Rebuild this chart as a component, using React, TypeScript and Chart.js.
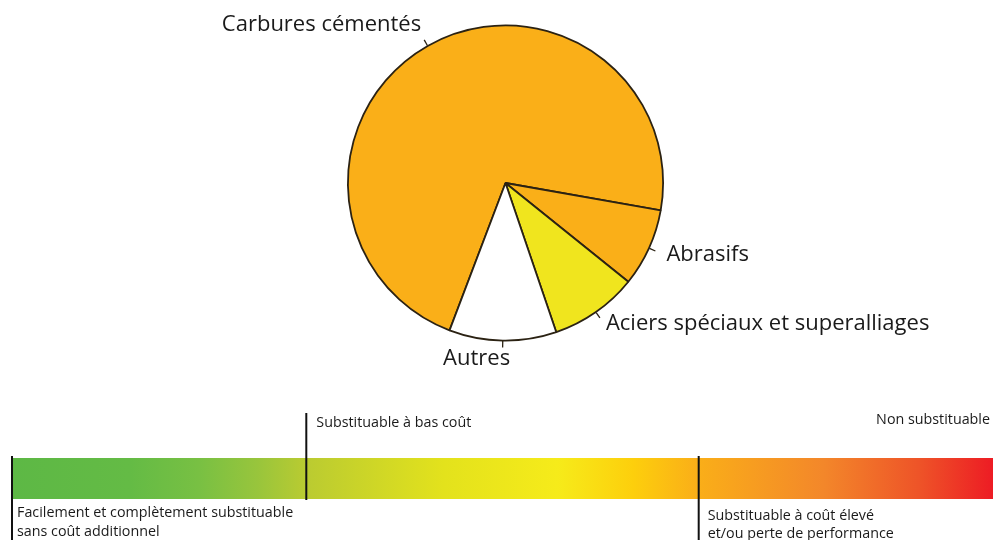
import React, { useEffect, useRef } from "react";
import { Chart, registerables } from "chart.js";

Chart.register(...registerables);

// ---- data ----
const categories = [
  "Carbures cémentés",
  "Abrasifs",
  "Aciers spéciaux et superalliages",
  "Autres",
];
const shares = [72, 8, 9, 11];
const sliceColors = ["#FAAF18", "#FAAF18", "#F0E51E", "#FFFFFF"];

const scaleLabels = [
  ["Facilement et complètement substituable", "sans coût additionnel"],
  ["Substituable à bas coût"],
  ["Substituable à coût élevé", "et/ou perte de performance"],
  ["Non substituable"],
];
const scaleLevels = [0, 0.3, 0.7, 1];

const gradientStops: [number, string][] = [
  [0, "#5DB845"],
  [0.12, "#64BB45"],
  [0.19, "#78C043"],
  [0.25, "#98C53C"],
  [0.3, "#BACB31"],
  [0.44, "#E3E21C"],
  [0.556, "#F6EB1A"],
  [0.633, "#FDCF0C"],
  [0.697, "#FAAF18"],
  [0.827, "#F3872A"],
  [0.924, "#EE5428"],
  [1, "#ED1C24"],
];

// ---- styles (label placement relative to tick end) ----
const PIE_FONT = '22px "Open Sans", sans-serif';
const SCALE_FONT = '14.3px "Open Sans", sans-serif';
const pieLabelStyle = [
  { dx: -3, dy: -9, align: "right" },
  { dx: 11, dy: 10, align: "left" },
  { dx: 6, dy: 12, align: "left" },
  { dx: -26, dy: 17, align: "center" },
];

const overlayPlugin = {
  id: "overlay",
  afterDraw(chart: any) {
    const ctx = chart.ctx as CanvasRenderingContext2D;
    const meta = chart.getDatasetMeta(0);
    ctx.save();
    // pie labels with small radial ticks
    meta.data.forEach((arc: any, i: number) => {
      const p = arc.getProps(["x", "y", "startAngle", "endAngle", "outerRadius"], true);
      const mid = (p.startAngle + p.endAngle) / 2;
      const c = Math.cos(mid);
      const s = Math.sin(mid);
      const x1 = p.x + c * (p.outerRadius + 0.5);
      const y1 = p.y + s * (p.outerRadius + 0.5);
      const x2 = p.x + c * (p.outerRadius + 7);
      const y2 = p.y + s * (p.outerRadius + 7);
      ctx.strokeStyle = "#2b2213";
      ctx.lineWidth = 1.3;
      ctx.beginPath();
      ctx.moveTo(x1, y1);
      ctx.lineTo(x2, y2);
      ctx.stroke();
      const st = pieLabelStyle[i];
      ctx.fillStyle = "#1a1a1a";
      ctx.font = PIE_FONT;
      ctx.textAlign = st.align as CanvasTextAlign;
      ctx.textBaseline = "alphabetic";
      ctx.fillText(categories[i], x2 + st.dx, y2 + st.dy);
    });

    // substitution scale bar
    const x0 = 12;
    const x1 = chart.width;
    const top = 458;
    const bottom = 499;
    const g = ctx.createLinearGradient(x0, 0, x1, 0);
    gradientStops.forEach(([o, col]) => g.addColorStop(o, col));
    ctx.fillStyle = g;
    ctx.fillRect(x0, top, x1 - x0, bottom - top);

    ctx.strokeStyle = "#111";
    ctx.lineWidth = 2;
    ctx.font = SCALE_FONT;
    ctx.fillStyle = "#1a1a1a";
    ctx.textBaseline = "alphabetic";
    scaleLevels.forEach((lv, i) => {
      const x = x0 + lv * (x1 - x0);
      const lines = scaleLabels[i];
      if (i === 3) {
        ctx.textAlign = "right";
        ctx.fillText(lines[0], x - 3, 424);
        return;
      }
      const up = i === 1;
      ctx.beginPath();
      if (up) {
        ctx.moveTo(x, 413);
        ctx.lineTo(x, 500);
      } else {
        ctx.moveTo(x, 456);
        ctx.lineTo(x, 540);
      }
      ctx.stroke();
      ctx.textAlign = "left";
      if (up) {
        ctx.fillText(lines[0], x + 10, 427);
      } else {
        const base = i === 0 ? 517 : 520;
        const gap = i === 0 ? 19 : 18;
        lines.forEach((t, k) => ctx.fillText(t, x + (i === 0 ? 5 : 9), base + k * gap));
      }
    });
    ctx.restore();
  },
};

export default function App() {
  const ref = useRef<HTMLCanvasElement | null>(null);
  useEffect(() => {
    if (!ref.current) return;
    const chart = new Chart(ref.current, {
      type: "pie",
      data: {
        labels: categories,
        datasets: [
          {
            data: shares,
            backgroundColor: sliceColors,
            borderColor: "#2b2213",
            borderWidth: 1.8,
          },
        ],
      },
      options: {
        animation: false,
        responsive: false,
        devicePixelRatio: 1,
        rotation: 200.8,
        layout: { padding: { top: 24, bottom: 198, left: 347, right: 329 } },
        plugins: {
          legend: { display: false },
          tooltip: { enabled: false },
        },
      },
      plugins: [overlayPlugin],
    });
    return () => chart.destroy();
  }, []);
  return (
    <div style={{ position: "absolute", left: 0, top: 0, width: 993, height: 540, background: "#fff" }}>
      <canvas ref={ref} width={993} height={540} />
    </div>
  );
}
